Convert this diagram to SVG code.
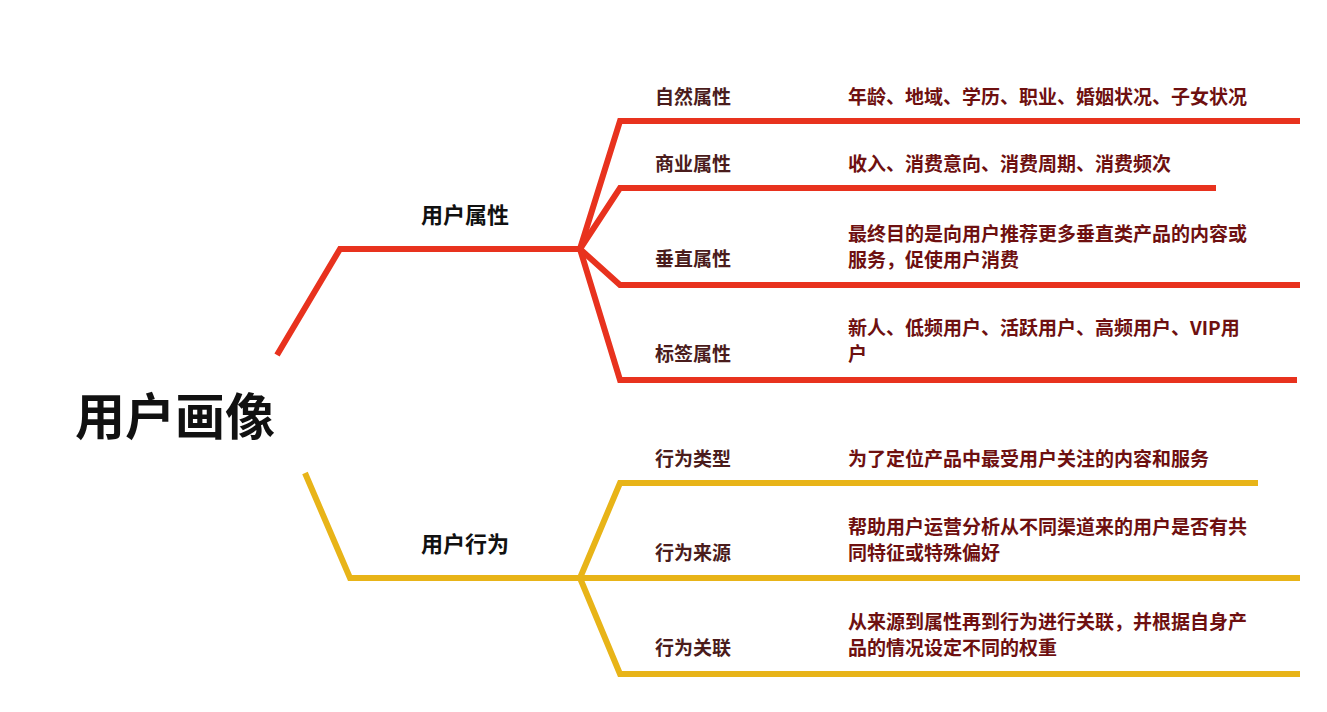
<svg xmlns="http://www.w3.org/2000/svg" width="1327" height="712" viewBox="0 0 1327 712">
<style>
.r{fill:none;stroke:#e8321e;stroke-width:6;stroke-linejoin:miter}
.y{fill:none;stroke:#e8b418;stroke-width:6}
text{font-family:"Noto Sans CJK SC",sans-serif;font-weight:bold}
.k{font-size:19px;fill:#4a1c1c}
.v{font-size:19px;fill:#6e1010}
.m{font-size:22px;fill:#111}
</style>
<rect width="1327" height="712" fill="#fff"/>
<g id="connectors">
<path class="r" d="M277,355 L340,249 L580,249"/>
<path class="r" d="M580,249 L620,121 L1300,121"/>
<path class="r" d="M580,249 L620,188 L1216,188"/>
<path class="r" d="M580,249 L620,285 L1300,285"/>
<path class="r" d="M580,249 L620,380 L1297,380"/>
<path class="y" d="M305,473 L350,578 L580,578"/>
<path class="y" d="M580,578 L620,483 L1258,483"/>
<path class="y" d="M580,578 L1300,578"/>
<path class="y" d="M580,578 L620,674 L1300,674"/>
</g>
<g id="root"><text x="75" y="435" font-size="50" fill="#111">用户画像</text></g>
<g id="n1"><text class="m" x="421" y="223">用户属性</text></g>
<g id="n2"><text class="m" x="421" y="552">用户行为</text></g>
<g id="a1"><text class="k" x="655" y="104">自然属性</text><text class="v" x="848" y="104">年龄、地域、学历、职业、婚姻状况、子女状况</text></g>
<g id="a2"><text class="k" x="655" y="171">商业属性</text><text class="v" x="848" y="171">收入、消费意向、消费周期、消费频次</text></g>
<g id="a3"><text class="k" x="655" y="266">垂直属性</text><text class="v" x="848" y="241">最终目的是向用户推荐更多垂直类产品的内容或</text><text class="v" x="848" y="267">服务，促使用户消费</text></g>
<g id="a4"><text class="k" x="655" y="361">标签属性</text><text class="v" x="848" y="335">新人、低频用户、活跃用户、高频用户、VIP用</text><text class="v" x="848" y="361">户</text></g>
<g id="b1"><text class="k" x="655" y="466">行为类型</text><text class="v" x="848" y="466">为了定位产品中最受用户关注的内容和服务</text></g>
<g id="b2"><text class="k" x="655" y="560">行为来源</text><text class="v" x="848" y="534">帮助用户运营分析从不同渠道来的用户是否有共</text><text class="v" x="848" y="560">同特征或特殊偏好</text></g>
<g id="b3"><text class="k" x="655" y="655">行为关联</text><text class="v" x="848" y="629">从来源到属性再到行为进行关联，并根据自身产</text><text class="v" x="848" y="655">品的情况设定不同的权重</text></g>
</svg>
